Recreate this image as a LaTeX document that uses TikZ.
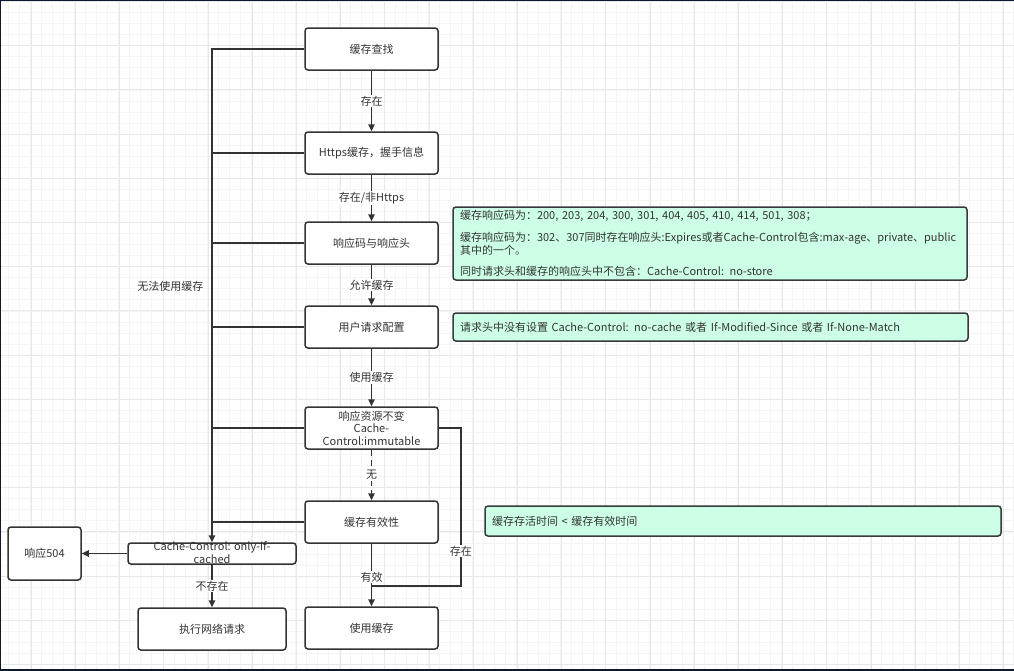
\documentclass[tikz,border=0pt]{standalone}
\usepackage{fontspec}
\setmainfont{Noto Sans CJK SC}
\usetikzlibrary{arrows.meta, calc}

\definecolor{linegray}{HTML}{333333}
\definecolor{notegreen}{HTML}{CCFFE6}
\definecolor{notedraw}{HTML}{36393D}
\definecolor{gridminor}{HTML}{F5F5F5}
\definecolor{gridmajor}{HTML}{E8E8E8}
\definecolor{framedark}{HTML}{0B1A2E}

\begin{document}
\begin{tikzpicture}[x=1pt, y=-1pt, >={Triangle[length=7pt, width=6.5pt]},
  stepbox/.style={draw=linegray, line width=1.5pt, rounded corners=3pt, fill=white,
    minimum width=133pt, minimum height=42pt, inner sep=0pt, align=center,
    text=linegray, font=\fontsize{11}{12.5}\selectfont},
  notebox/.style={draw=notedraw, fill=notegreen, line width=1.5pt, rounded corners=3pt,
    inner xsep=7pt, inner ysep=0pt, align=left, text=linegray,
    font=\fontsize{11}{11}\selectfont},
  flow/.style={draw=linegray, line width=1.5pt, ->},
  plain/.style={draw=linegray, line width=1.5pt},
  lbl/.style={fill=white, inner sep=1pt, text=linegray, font=\fontsize{11}{12}\selectfont}]

  % page and grid
  \useasboundingbox (0,0) rectangle (1014,670);
  \fill[white] (0,0) rectangle (1014,670);
  \foreach \gx in {-2.95, 8.1, ..., 1014} \draw[gridminor, line width=0.6pt] (\gx,0) -- (\gx,670);
  \foreach \gy in {1.4, 12.45, ..., 670} \draw[gridminor, line width=0.6pt] (0,\gy) -- (1014,\gy);
  \foreach \gx in {31.2, 75.4, ..., 1014} \draw[gridmajor, line width=0.8pt] (\gx,0) -- (\gx,670);
  \foreach \gy in {1.4, 45.6, ..., 670} \draw[gridmajor, line width=0.8pt] (0,\gy) -- (1014,\gy);
  \draw[framedark, line width=2pt] (0,670) -- (0,0) -- (1014,0);
  \draw[framedark, line width=3pt] (0,670) -- (1014,670);

  % main column
  \node[stepbox] (find) at (371.5,49) {缓存查找};
  \node[stepbox] (https) at (371.5,153) {Https缓存，握手信息};
  \node[stepbox] (code) at (371.5,243) {响应码与响应头};
  \node[stepbox] (req) at (371.5,327) {用户请求配置};
  \node[stepbox] (immut) at (371.5,428) {响应资源不变\\Cache-\\Control:immutable};
  \node[stepbox] (valid) at (371.5,522) {缓存有效性};
  \node[stepbox] (use) at (371.5,628) {使用缓存};

  % left side
  \node[stepbox, minimum width=168pt, minimum height=21pt,
    label={[text=linegray, align=center, font=\fontsize{11}{12.5}\selectfont, yshift=1pt]center:{Cache-Control: only-if-\\cached}}]
    (onlyif) at (212,553.5) {};
  \node[stepbox, minimum width=73pt, minimum height=53pt] (r504) at (44.5,553.5) {响应504};
  \node[stepbox, minimum width=148pt] (net) at (212,629) {执行网络请求};
  \node[text=linegray, font=\fontsize{11}{12}\selectfont, anchor=east] (nocache) at (207,286) {无法使用缓存};

  % notes
  \node[notebox, minimum width=514pt, minimum height=73pt, text width=500pt] (note1) at (710,243.5)
    {缓存响应码为：200, 203, 204, 300, 301, 404, 405, 410, 414, 501, 308；\\[10pt]
     缓存响应码为：302、307同时存在响应头:Expires或者Cache-Control包含:max-age、private、public\\
     其中的一个。\\[10pt]
     同时请求头和缓存的响应头中不包含：Cache-Control: no-store};
  \node[notebox, minimum width=515pt, minimum height=28pt, text width=501pt] (note2) at (710.5,327)
    {请求头中没有设置 Cache-Control: no-cache 或者 If-Modified-Since 或者 If-None-Match};
  \node[notebox, minimum width=516pt, minimum height=30pt, text width=502pt] (note3) at (743,521)
    {缓存存活时间 < 缓存有效时间};

  % connectors
  \draw[flow] (find) -- node[lbl] {存在} (https);
  \draw[flow] (https) -- node[lbl] {存在/非Https} (code);
  \draw[flow] (code) -- node[lbl] {允许缓存} (req);
  \draw[flow] (req) -- node[lbl] {使用缓存} (immut);
  \draw[flow, dash pattern=on 6pt off 4pt] (immut) -- node[lbl] {无} (valid);
  \coordinate (join) at (371.5,586);
  \draw[flow] (valid) -- node[lbl, pos=0.53] {有效} (use);
  \draw[plain] (immut.east) -- ++(22,0) coordinate (bend) -- (bend |- join)
    node[lbl, pos=0.78] {存在} -- (join);

  \draw[flow] (find.west) -| (onlyif.north);
  \foreach \n in {https, code, req, immut, valid}
    \draw[plain] (\n.west) -- (\n.west -| onlyif.north);
  \draw[flow] (onlyif.west) -- (r504.east);
  \draw[flow] (onlyif.south) -- node[lbl] {不存在} (net.north);
\end{tikzpicture}
\end{document}
